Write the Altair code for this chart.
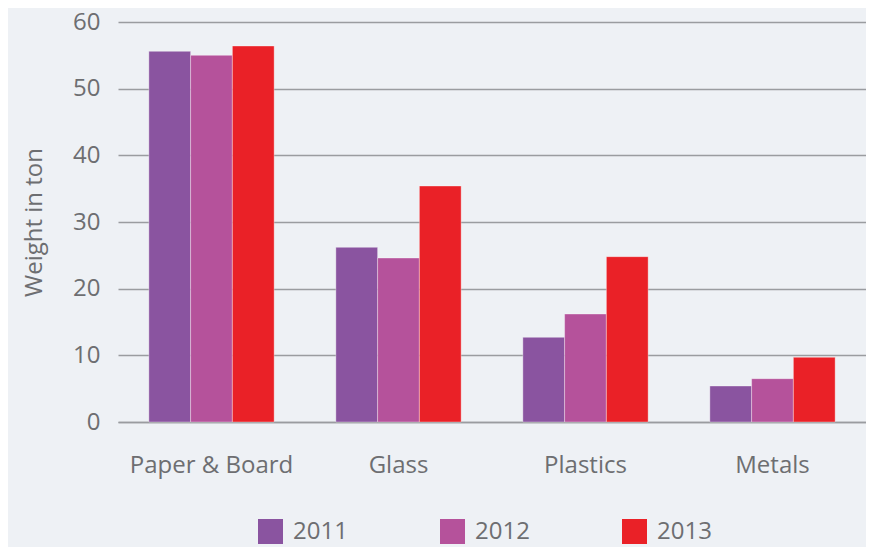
import altair as alt
import pandas as pd

categories = ["Paper & Board", "Glass", "Plastics", "Metals"]
years = ["2011", "2012", "2013"]
v2011 = [55.6, 26.2, 12.7, 5.4]
v2012 = [55.0, 24.6, 16.2, 6.5]
v2013 = [56.4, 35.4, 24.8, 9.7]
colors = ["#8a54a0", "#b5529b", "#ea2127"]

rows = []
for yr, vals in zip(years, [v2011, v2012, v2013]):
    for c, v in zip(categories, vals):
        rows.append({"Material": c, "Year": yr, "Weight": v})
df = pd.DataFrame(rows)

FONT = "Open Sans"
GREY = "#6d6e71"
FS = 24

chart = alt.Chart(df).mark_bar(stroke="#ffffff", strokeOpacity=0.35, strokeWidth=1).encode(
    x=alt.X("Material:N", sort=categories, title=None,
            scale=alt.Scale(paddingInner=0.33, paddingOuter=0.165),
            axis=alt.Axis(labelAngle=0, labelFontSize=FS, labelColor=GREY, labelFont=FONT,
                          labelPadding=31, ticks=False, domain=True, domainColor="#9a9ca0",
                          domainWidth=1.5)),
    xOffset=alt.XOffset("Year:N", sort=years),
    y=alt.Y("Weight:Q", title="Weight in ton",
            scale=alt.Scale(domain=[0, 60]),
            axis=alt.Axis(values=[0, 10, 20, 30, 40, 50, 60], labelFontSize=FS, labelColor=GREY,
                          labelFont=FONT, labelPadding=18, ticks=False, domain=False,
                          gridColor="#9a9ca0", gridWidth=1.5,
                          titleFontSize=FS, titleColor=GREY, titleFont=FONT,
                          titleFontWeight="normal", titlePadding=26)),
    color=alt.Color("Year:N", sort=years, scale=alt.Scale(domain=years, range=colors),
                    legend=alt.Legend(title=None, orient="none", direction="horizontal",
                                      legendX=140, legendY=497,
                                      symbolType="square", symbolSize=625, symbolStrokeWidth=0,
                                      labelFontSize=FS, labelColor=GREY, labelFont=FONT,
                                      labelOffset=10, columnPadding=92)),
).properties(
    width=748, height=400,
    padding={"left": 110, "top": 14, "right": 0, "bottom": 125},
    autosize=alt.AutoSizeParams(type="none"),
    background="#eef1f5",
).configure_view(stroke=None)

chart.save("out.html", embed_options={"renderer": "svg", "actions": False})
